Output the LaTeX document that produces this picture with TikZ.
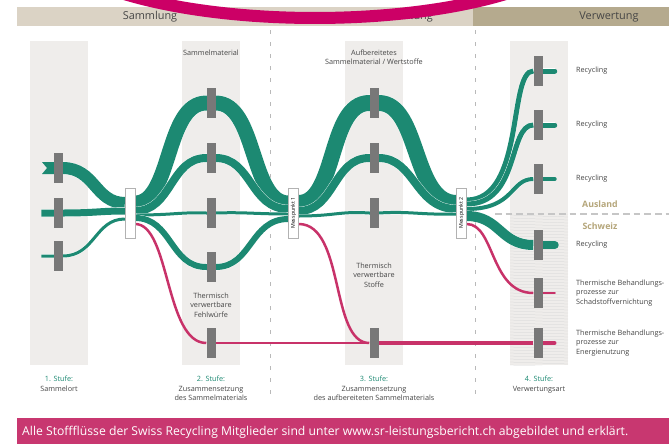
\documentclass[tikz,border=0pt]{standalone}
\usepackage{fontspec}
\setmainfont{Open Sans}
\usepackage{tikz}
\usetikzlibrary{calc}

\definecolor{srgreen}{RGB}{28,137,114}
\definecolor{srred}{RGB}{200,50,105}
\definecolor{srmagenta}{RGB}{204,0,102}
\definecolor{srbanner}{RGB}{200,55,112}
\definecolor{srhead}{RGB}{219,211,197}
\definecolor{srheaddark}{RGB}{181,170,142}
\definecolor{srcol}{RGB}{239,237,235}
\definecolor{srbar}{RGB}{120,120,120}
\definecolor{srtan}{RGB}{181,166,122}
\definecolor{srtext}{RGB}{70,70,70}

\pgfdeclarelayer{back}
\pgfdeclarelayer{flows}
\pgfsetlayers{back,flows,main}

\tikzset{
  flow/.style={draw=srgreen, line width=#1*0.3mm,
    preaction={draw=white, line width=#1*0.3mm+0.2mm}},
  redflow/.style={draw=srred, line width=#1*0.3mm},
  stufebar/.style={fill=srbar, minimum width=2.7mm, minimum height=9mm, inner sep=0pt},
  mbox/.style={draw=gray!60, fill=white, line width=0.3pt,
    minimum width=3mm, minimum height=15mm, inner sep=0pt},
  lbl/.style={font=\fontsize{6.2}{8}\selectfont, text=srtext, align=center},
  rlbl/.style={lbl, align=left, anchor=west},
  head/.style={font=\fontsize{9.3}{11}\selectfont, text=srtext},
}

\begin{document}
\begin{tikzpicture}[x=0.03cm, y=-0.03cm]
\useasboundingbox (0,0) rectangle (669,444);
\clip (0,0) rectangle (669,444);

\begin{pgfonlayer}{back}
  \fill[white] (0,0) rectangle (669,444);
  % the four stages
  \foreach \x in {59,211,374,539}
    \fill[srcol] (\x-29,41) rectangle (\x+29,365);
  % Schweiz part of the last column is hatched
  \begin{scope}
    \clip (510,214) rectangle (568,365);
    \foreach \y in {200,203,...,368}
      \draw[gray!35, line width=0.2pt] (510,\y) -- (568,\y+2);
  \end{scope}
  % separators
  \foreach \x in {270,475}
    \draw[gray!55, line width=0.3mm, dash pattern=on 1.2mm off 2.4mm] (\x,30) -- (\x,398);
  \draw[gray!45, line width=0.4mm, dash pattern=on 2mm off 1.2mm] (495,214) -- (669,214);
\end{pgfonlayer}

% header
\fill[srhead] (17,7) rectangle (473,26);
\fill[srheaddark] (473,7) rectangle (669,26);
\node[head] (h1) at (150,16.5) {Sammlung};
\node[head, anchor=east] (h2) at (437,16.5) {Aufbereitung};
\node[head] (h3) at (609,16.5) {Verwertung};
\draw[srmagenta, line width=3.6mm]
  plot[domain=180:360, samples=90] ({315+274*cos(\x)}, {-67-85*sin(\x)});

% bars
\foreach \n/\x/\y in {c1a/58/168, c1b/58/213, c1c/58/256,
    c2a/211/103, c2b/211/158, c2c/211/213, c2d/211/267, c2e/211/343,
    c3a/374/103, c3b/374/158, c3c/374/213, c3d/374/343,
    c4a/538/71, c4b/538/125, c4c/538/179, c4d/538/245, c4e/538/293, c4f/538/343}
  \node[stufebar] (\n) at (\x,\y) {};

% collection point and measuring points
\node[mbox] (j1) at (130,213) {};
\node[mbox] (mp1) at (293.5,213) {\rotatebox{90}{\fontsize{4.5}{5}\selectfont Messpunkt 1}};
\node[mbox] (mp2) at (461.5,213) {\rotatebox{90}{\fontsize{4.5}{5}\selectfont Messpunkt 2}};

\begin{pgfonlayer}{flows}
  % stage 1
  \fill[srgreen] (42,162) -- (55,162) -- (55,174) -- (42,174) -- (47,168) -- cycle;
  \draw[flow=12] (c1a.east) .. controls (95,168) and (95,203) .. ($(j1.west)+(0,-10)$);
  \draw[flow=7] ($(c1b.west)+(-12,0)$) -- (c1b.east)
    .. controls (95,213) and (100,211) .. ($(j1.west)+(0,-2)$);
  \draw[flow=3] ($(c1c.west)+(-12,0)$) -- (c1c.east)
    .. controls (95,256) and (95,219) .. ($(j1.west)+(0,6)$);

  % stage 2
  \draw[flow=15] ($(j1.east)+(0,-10)$) .. controls (172,203) and (165,103) .. (c2a.west)
    -- (c2a.east) .. controls (257,103) and (250,203) .. ($(mp1.west)+(0,-10)$);
  \draw[flow=8] ($(j1.east)+(0,-2)$) .. controls (172,211) and (170,158) .. (c2b.west)
    -- (c2b.east) .. controls (252,158) and (250,209) .. ($(mp1.west)+(0,-4)$);
  \draw[flow=3] ($(j1.east)+(0,2)$) .. controls (175,215) and (180,212) .. (c2c.west)
    -- (c2c.east) .. controls (245,212) and (255,214) .. ($(mp1.west)+(0,1)$);
  \draw[flow=6] ($(j1.east)+(0,5)$) .. controls (172,218) and (170,267) .. (c2d.west)
    -- (c2d.east) .. controls (252,267) and (250,219) .. ($(mp1.west)+(0,6)$);
  \draw[redflow=2.5] ($(j1.east)+(0,11)$) .. controls (170,224) and (165,343) .. (c2e.west);
  \draw[redflow=2.8] (c2e.east) -- (c3d.west);

  % stage 3
  \draw[flow=16] ($(mp1.east)+(0,-10)$) .. controls (337,203) and (328,103) .. (c3a.west)
    -- (c3a.east) .. controls (420,103) and (412,203) .. ($(mp2.west)+(0,-10)$);
  \draw[flow=8] ($(mp1.east)+(0,-2)$) .. controls (335,211) and (333,158) .. (c3b.west)
    -- (c3b.east) .. controls (415,158) and (415,209) .. ($(mp2.west)+(0,-4)$);
  \draw[flow=3] ($(mp1.east)+(0,3)$) .. controls (335,216) and (340,211) .. (c3c.west)
    -- (c3c.east) .. controls (410,211) and (420,215) .. ($(mp2.west)+(0,1)$);
  \draw[redflow=2.5] ($(mp1.east)+(0,11)$) .. controls (345,224) and (330,343) .. (c3d.west);
  \draw[redflow=4] (c3d.east) -- (c4f.west);

  % stage 4
  \draw[flow=5] ($(mp2.east)+(0,-13)$) .. controls (525,200) and (508,71) .. (c4a.west);
  \draw[flow=5] ($(mp2.east)+(0,-9)$) .. controls (520,204) and (508,125) .. (c4b.west);
  \draw[flow=4] ($(mp2.east)+(0,-4)$) .. controls (515,209) and (510,179) .. (c4c.west);
  \draw[flow=10] ($(mp2.east)+(0,3)$) .. controls (500,216) and (500,245) .. (c4d.west);
  \draw[redflow=2.5] ($(mp2.east)+(0,11)$) .. controls (495,224) and (490,293) .. (c4e.west);

  % outgoing stubs
  \foreach \n/\w in {c4a/5, c4b/5, c4c/4, c4d/8}
    \draw[flow=\w, line cap=round] (\n.east) -- ++(12,0);
  \draw[redflow=2.5, line cap=round] (c4e.east) -- ++(12,0);
  \draw[redflow=3.5, line cap=round] (c4f.east) -- ++(12,0);
\end{pgfonlayer}

% labels
\node[lbl] (t2) at (211,53) {Sammelmaterial};
\node[lbl] (t3) at (374,57) {Aufbereitetes\\Sammelmaterial / Wertstoffe};
\node[lbl] (f2) at (211,305) {Thermisch\\verwertbare\\Fehlwürfe};
\node[lbl] (f3) at (374,275) {Thermisch\\verwertbare\\Stoffe};
\foreach \n/\y in {c4a/71, c4b/125, c4c/179, c4d/245}
  \node[rlbl] (r\n) at (572,\y) {Recycling};
\node[rlbl] (r4e) at (572,293) {Thermische Behandlungs-\\prozesse zur\\Schadstoffvernichtung};
\node[rlbl] (r4f) at (572,343) {Thermische Behandlungs-\\prozesse zur\\Energienutzung};
\node[font=\fontsize{7.5}{9}\selectfont\bfseries, text=srtan] (ausland) at (600,204) {Ausland};
\node[font=\fontsize{7.5}{9}\selectfont\bfseries, text=srtan] (schweiz) at (600,226) {Schweiz};

\node[lbl, anchor=north] (s1) at (59,372) {\textcolor{srgreen}{1. Stufe:}\\Sammelort};
\node[lbl, anchor=north] (s2) at (211,372) {\textcolor{srgreen}{2. Stufe:}\\Zusammensetzung\\des Sammelmaterials};
\node[lbl, anchor=north] (s3) at (374,372) {\textcolor{srgreen}{3. Stufe:}\\Zusammensetzung\\des aufbereiteten Sammelmaterials};
\node[lbl, anchor=north] (s4) at (539,372) {\textcolor{srgreen}{4. Stufe:}\\Verwertungsart};

% footer
\fill[srbanner] (17,418) rectangle (669,444);
\node[anchor=west, text=white, inner sep=0pt, font=\fontsize{10.4}{12}\selectfont] (note) at (22,432)
  {Alle Stoffflüsse der Swiss Recycling Mitglieder sind unter www.sr-leistungsbericht.ch abgebildet und erklärt.};

\end{tikzpicture}
\end{document}
